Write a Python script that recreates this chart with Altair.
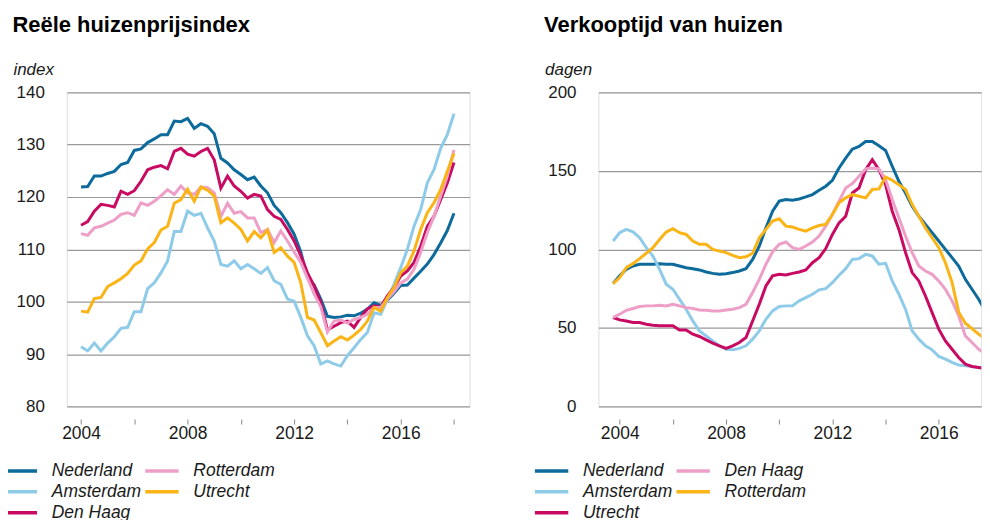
import altair as alt
import pandas as pd

# ---------------- data ----------------
left_title = "Reële huizenprijsindex"
right_title = "Verkooptijd van huizen"

# quarterly observations, left panel 2004Q1 .. 2018Q1
left_start = 2004.0
left_names = ["Nederland", "Amsterdam", "Den Haag", "Rotterdam", "Utrecht"]
left_nederland = [121.9, 122.0, 124.0, 124.0, 124.5, 124.9, 126.2, 126.6, 128.9, 129.2,
                  130.4, 131.1, 131.9, 131.9, 134.5, 134.4, 135.0, 133.1, 134.0, 133.5,
                  132.1, 127.4, 126.5, 125.2, 124.3, 123.3, 123.8, 122.1, 120.8, 118.4,
                  117.0, 115.1, 112.9, 109.5, 104.6, 103.2, 100.5, 97.2, 97.0, 97.1,
                  97.4, 97.3, 97.8, 98.6, 99.8, 99.3, 100.3, 101.6, 103.1, 103.2,
                  104.5, 105.8, 107.2, 109.0, 111.2, 113.6, 116.9]
left_amsterdam = [91.4, 90.6, 92.1, 90.6, 92.1, 93.3, 94.9, 95.1, 98.1, 98.1,
                  102.5, 103.6, 105.5, 107.8, 113.4, 113.4, 117.3, 116.5, 116.9, 114.1,
                  111.6, 107.1, 106.8, 107.8, 106.3, 107.1, 106.3, 105.4, 106.5, 104.0,
                  103.3, 100.5, 100.1, 97.0, 93.5, 91.6, 88.1, 88.7, 88.1, 87.7,
                  89.7, 91.2, 92.8, 94.1, 97.9, 97.6, 100.5, 103.3, 106.5, 110.0,
                  114.4, 117.6, 122.7, 125.2, 129.3, 131.9, 135.9]
left_denhaag = [114.6, 115.3, 117.3, 118.6, 118.4, 118.1, 121.1, 120.5, 121.2, 123.0,
                125.2, 125.7, 126.0, 125.4, 128.7, 129.3, 128.2, 127.8, 128.7, 129.3,
                127.1, 121.7, 124.0, 122.1, 121.1, 119.8, 120.5, 120.2, 117.6, 116.3,
                115.7, 113.8, 111.6, 108.8, 105.5, 103.0, 99.8, 94.6, 95.3, 96.0,
                96.3, 95.1, 97.0, 98.6, 99.2, 99.0, 101.1, 102.7, 104.9, 105.9,
                107.5, 110.6, 114.4, 116.3, 119.5, 122.7, 126.6]
left_rotterdam = [113.0, 112.7, 114.1, 114.4, 115.0, 115.6, 116.7, 117.0, 116.5, 118.9,
                  118.4, 119.2, 120.2, 121.4, 120.5, 122.1, 120.8, 120.5, 121.9, 121.8,
                  120.8, 116.3, 118.8, 116.9, 117.2, 116.0, 116.0, 113.2, 113.8, 111.3,
                  113.5, 111.6, 109.5, 107.5, 104.5, 101.5, 99.0, 94.2, 96.3, 96.5,
                  95.9, 96.6, 97.0, 97.6, 98.9, 98.9, 100.5, 101.9, 103.6, 104.3,
                  106.2, 109.4, 113.2, 116.3, 120.2, 124.0, 129.0]
left_utrecht = [98.2, 98.0, 100.6, 100.8, 102.9, 103.6, 104.4, 105.4, 107.0, 107.8,
                110.1, 111.3, 113.7, 114.4, 118.8, 119.5, 121.5, 119.2, 121.9, 121.3,
                120.2, 115.1, 116.0, 115.0, 113.8, 111.6, 113.4, 112.2, 113.7, 109.4,
                110.3, 108.7, 107.5, 103.6, 97.0, 96.5, 94.1, 91.6, 92.5, 93.3,
                92.7, 93.6, 94.7, 96.3, 98.9, 98.2, 100.8, 102.7, 105.5, 106.8,
                109.7, 113.8, 117.0, 118.9, 121.4, 124.9, 128.3]

# quarterly observations, right panel 2003Q4 .. 2017Q4
right_start = 2003.75
right_names = ["Nederland", "Amsterdam", "Utrecht", "Den Haag", "Rotterdam"]
right_nederland = [78.2, 83.1, 87.3, 89.4, 90.5, 90.5, 90.5, 90.9, 90.5, 90.5,
                   89.4, 88.3, 87.7, 86.9, 85.6, 84.7, 84.1, 84.5, 85.2, 86.2,
                   87.7, 93.6, 102.0, 113.7, 124.3, 130.7, 131.7, 131.3, 132.1, 133.4,
                   134.9, 137.6, 140.2, 144.0, 151.8, 158.1, 163.8, 165.5, 168.7, 168.7,
                   166.0, 163.0, 152.9, 143.3, 135.9, 127.5, 121.1, 115.9, 110.6, 105.3,
                   100.0, 94.7, 89.4, 80.9, 74.6, 68.2, 60.8]
right_amsterdam = [105.3, 110.6, 112.7, 111.2, 107.4, 101.1, 95.8, 87.3, 77.8, 74.6,
                   68.2, 61.9, 54.4, 48.1, 44.9, 41.7, 38.6, 36.4, 36.0, 36.9,
                   38.6, 42.8, 48.1, 55.5, 60.8, 63.6, 64.0, 64.0, 67.2, 69.3,
                   71.4, 74.2, 75.0, 78.8, 83.5, 87.7, 93.6, 94.1, 96.8, 95.8,
                   90.5, 91.1, 79.9, 71.4, 61.9, 48.1, 42.8, 38.6, 36.0, 31.8,
                   30.1, 28.0, 26.3, 25.8, 25.4, 24.8, 24.2]
right_utrecht = [56.6, 55.1, 54.4, 53.4, 53.4, 52.3, 51.7, 51.3, 51.3, 51.3,
                 48.7, 48.7, 46.0, 44.5, 42.4, 40.3, 38.6, 36.9, 38.6, 40.7,
                 43.9, 54.4, 65.0, 76.7, 83.1, 84.1, 83.7, 84.7, 85.6, 86.9,
                 91.5, 94.7, 100.5, 109.5, 116.9, 121.1, 135.9, 139.1, 150.7, 157.1,
                 150.7, 141.2, 124.3, 112.7, 98.0, 85.2, 79.9, 70.3, 59.7, 49.2,
                 41.7, 36.4, 31.1, 26.9, 25.4, 24.8, 24.2]
right_denhaag = [56.6, 58.7, 61.2, 62.3, 63.6, 64.0, 64.0, 64.4, 64.0, 65.0,
                 64.0, 62.9, 62.3, 61.4, 61.2, 60.8, 60.8, 61.4, 61.9, 62.9,
                 65.0, 72.5, 80.9, 90.5, 98.5, 103.2, 104.7, 101.1, 100.0, 102.1,
                 104.7, 108.5, 114.8, 122.2, 130.7, 139.1, 141.9, 146.5, 151.2, 151.8,
                 151.2, 144.4, 131.7, 120.1, 108.5, 97.9, 89.4, 86.2, 84.1, 79.9,
                 74.6, 67.2, 57.6, 44.9, 40.7, 36.4, 33.3]
right_rotterdam = [78.2, 82.0, 88.3, 90.9, 94.1, 97.5, 101.1, 106.3, 111.0, 113.1,
                   110.6, 109.5, 105.3, 103.2, 103.2, 100.0, 98.9, 97.9, 96.2, 94.7,
                   95.3, 97.5, 107.4, 112.7, 118.0, 119.5, 114.8, 114.2, 112.7, 111.6,
                   113.7, 115.2, 115.9, 122.2, 129.6, 132.8, 134.9, 133.8, 132.8, 138.1,
                   138.5, 146.1, 144.0, 141.2, 138.1, 128.5, 121.1, 113.7, 107.4, 101.1,
                   91.5, 79.0, 60.0, 53.0, 49.5, 46.0, 42.8]

colors = ["#0d6b9c", "#8ecbe9", "#c90a62", "#ee9fc7", "#fbb415"]
left_ticks_x = [2004, 2006, 2008, 2010, 2012, 2014, 2016, 2018]
right_ticks_x = [2004, 2006, 2008, 2010, 2012, 2014, 2016]
left_ticks_y = [80, 90, 100, 110, 120, 130, 140]
right_ticks_y = [0, 50, 100, 150, 200]


def long_frame(start, names, series):
    rows = []
    for name, vals in zip(names, series):
        for i, v in enumerate(vals):
            rows.append({"jaar": start + i / 4.0, "waarde": v, "reeks": name})
    return pd.DataFrame(rows)


left_df = long_frame(left_start, left_names,
                     [left_nederland, left_amsterdam, left_denhaag, left_rotterdam, left_utrecht])
right_df = long_frame(right_start, right_names,
                      [right_nederland, right_amsterdam, right_utrecht, right_denhaag, right_rotterdam])

FONT = "Liberation Sans"
GRID = "#9a9a9a"
TXT = "#1a1a1a"


def panel(df, names, title, unit, xdom, width, xticks, ydom, yticks, legend_x):
    lines = alt.Chart(df).mark_line(strokeWidth=3, clip=True).encode(
        x=alt.X("jaar:Q",
                scale=alt.Scale(domain=xdom, nice=False, zero=False),
                axis=alt.Axis(values=xticks, title=None, grid=False, domain=False,
                              offset=12.7, tickSize=5, tickColor="#8a8a8a", tickWidth=1,
                              labelExpr="datum.value % 4 == 0 ? '' + datum.value : ''",
                              labelFontSize=17.5, labelFont=FONT, labelColor=TXT,
                              labelBaseline="alphabetic", labelPadding=14.3,
                              labelFlush=False, labelOverlap=False)),
        y=alt.Y("waarde:Q",
                scale=alt.Scale(domain=ydom, nice=False, zero=False),
                axis=alt.Axis(values=yticks, grid=True, gridColor=GRID, gridWidth=1.2,
                              domain=False, ticks=False,
                              labelFontSize=17, labelFont=FONT, labelColor=TXT,
                              labelPadding=22.5,
                              title=unit, titleAngle=0, titleAlign="left",
                              titleBaseline="alphabetic", titleX=-54, titleY=-18.3,
                              titleFont=FONT, titleFontSize=17, titleFontStyle="italic",
                              titleFontWeight="normal", titleColor=TXT)),
        color=alt.Color("reeks:N",
                        scale=alt.Scale(domain=names, range=colors),
                        legend=alt.Legend(orient="none", legendX=legend_x, legendY=369.3,
                                          title=None, columns=2, direction="vertical",
                                          symbolType="stroke", symbolSize=1122,
                                          symbolStrokeWidth=3.5, labelOffset=13,
                                          columnPadding=2, rowPadding=0, clipHeight=20.8,
                                          labelFont=FONT, labelFontSize=17.5,
                                          labelFontStyle="italic", labelColor=TXT,
                                          labelLimit=200)),
        detail="reeks:N",
    )
    head = alt.Chart(pd.DataFrame({"t": [title]})).mark_text(
        align="left", baseline="alphabetic", font=FONT, fontSize=22,
        fontWeight="bold", color="#000000"
    ).encode(text="t:N", x=alt.value(-54.5), y=alt.value(-60.6))
    return alt.layer(lines, head).properties(width=width, height=315)


left = panel(left_df, left_names, left_title, "index",
             [2003.465, 2018.585], 404, left_ticks_x, [80, 140], left_ticks_y, -65.05)
right = panel(right_df, right_names, right_title, "dagen",
              [2003.2, 2017.598], 384, right_ticks_x, [0, 200], right_ticks_y, -65.45)

chart = alt.hconcat(left, right, spacing=62.25).resolve_scale(
    color="independent"
).properties(
    padding={"left": -7.05, "top": 3.8, "right": 0, "bottom": 0}
).configure_view(stroke=None).configure(background="white")

chart.save("out.html", embed_options={"renderer": "svg", "actions": False})
